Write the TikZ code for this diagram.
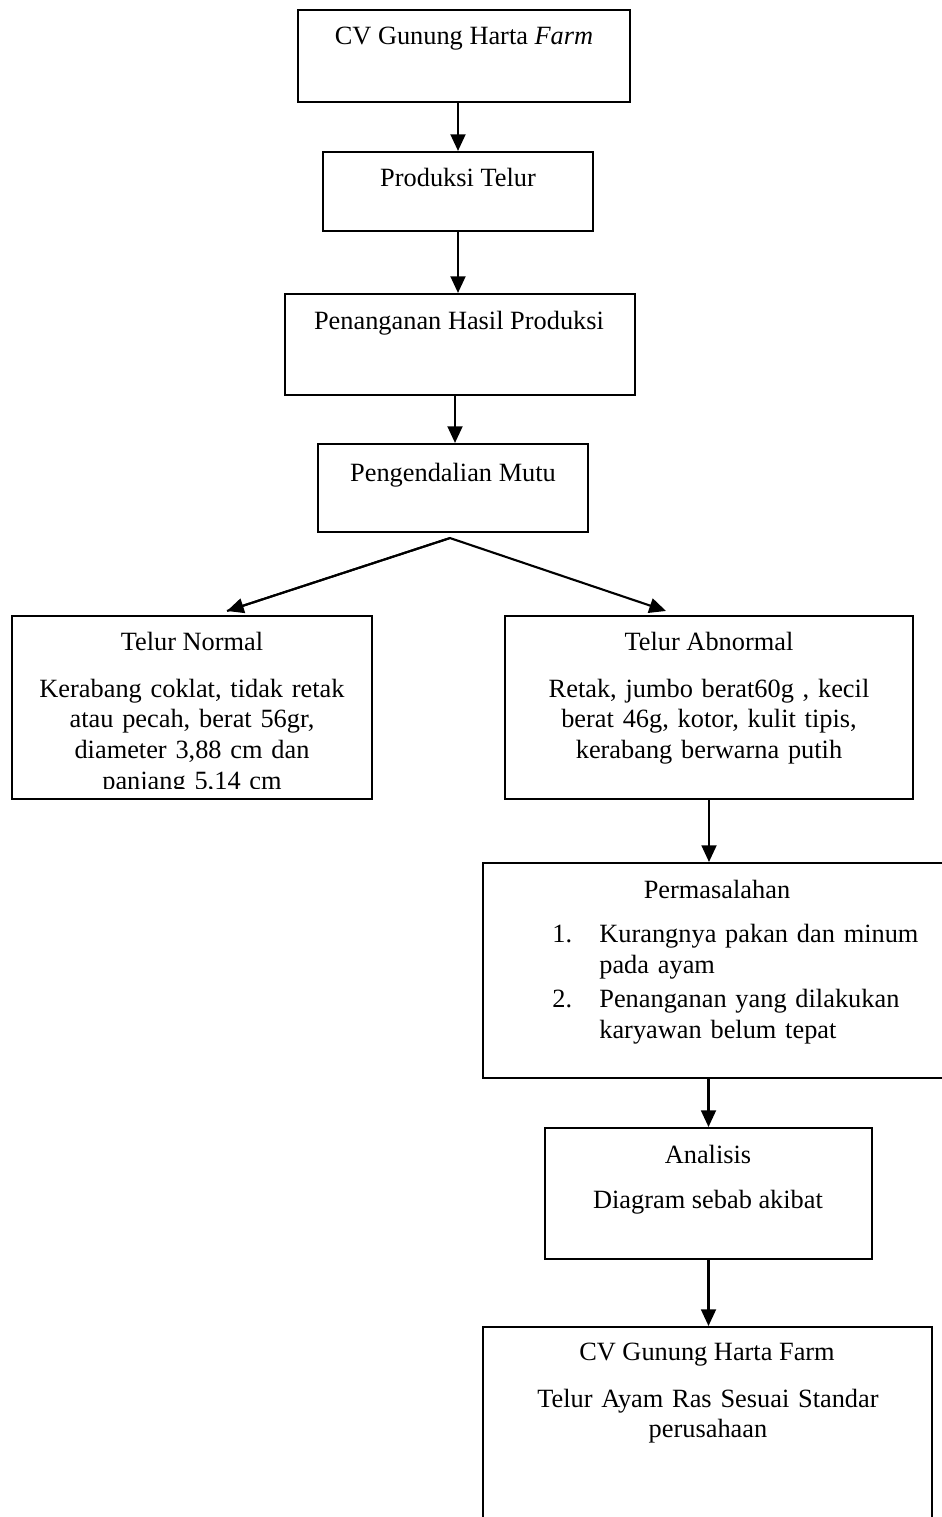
\documentclass[tikz,border=0pt]{standalone}
\usepackage{fontspec}
\setmainfont{Liberation Serif}
\usetikzlibrary{arrows.meta,calc}
\begin{document}
\begin{tikzpicture}[x=0.02cm,y=-0.02cm,
  box/.style={draw, line width=1.2pt, inner sep=0pt},
  arr/.style={line width=1.2pt, -{Triangle[length=9.5pt,width=8.5pt]}},
  txt/.style={font=\fontsize{15pt}{17.6pt}\selectfont, inner sep=0pt, anchor=base},
  para/.style={txt, text width=#1, align=center},
  para/.default=7cm,
  lst/.style={font=\fontsize{15pt}{18.2pt}\selectfont, inner sep=0pt, anchor=base west, text width=6.8cm, align=left},
  num/.style={font=\fontsize{15pt}{18.2pt}\selectfont, inner sep=0pt, anchor=base west},
]
\useasboundingbox (0,0) rectangle (941,1517);

% boxes
\node[box, minimum width=6.64cm, minimum height=1.84cm] (b1) at (464,56) {};
\node[box, minimum width=5.40cm, minimum height=1.58cm] (b2) at (458,191.5) {};
\node[box, minimum width=7.00cm, minimum height=2.02cm] (b3) at (460,344.5) {};
\node[box, minimum width=5.40cm, minimum height=1.76cm] (b4) at (453,488) {};
\node[box, minimum width=7.20cm, minimum height=3.66cm] (b5) at (192,707.5) {};
\node[box, minimum width=8.16cm, minimum height=3.66cm] (b6) at (709,707.5) {};
\node[box, minimum width=9.54cm, minimum height=4.30cm] (b7) at (721.5,970.5) {};
\node[box, minimum width=6.54cm, minimum height=2.62cm] (b8) at (708.5,1193.5) {};
\node[box, minimum width=8.98cm, minimum height=4.26cm] (b9) at (707.5,1433.5) {};

% texts
\node[txt] (t1) at (464,45) {CV Gunung Harta \textit{Farm}};
\node[txt] (t2) at (458,187) {Produksi Telur};
\node[txt] (t3) at (459,329) {Penanganan Hasil Produksi};
\node[txt] (t4) at (453,481) {Pengendalian Mutu};

\node[txt] (t5a) at (192,650) {Telur Normal};
\begin{scope}
  \clip (b5.north west) rectangle ([yshift=0.24cm]b5.south east);
  \node[para] (t5b) at (192,697) {Kerabang coklat, tidak retak\\atau pecah, berat 56gr,\\diameter 3,88 cm dan\\panjang 5,14 cm};
\end{scope}

\node[txt] (t6a) at (709,650) {Telur Abnormal};
\node[para=8cm] (t6b) at (709,697) {Retak, jumbo berat60g , kecil\\berat 46g, kotor, kulit tipis,\\kerabang berwarna putih};

\node[txt] (t7a) at (717,898) {Permasalahan};
\node[num] (n1) at (552,942) {1.};
\node[lst] (l1) at (599,942) {Kurangnya pakan dan minum\\pada ayam};
\node[num] (n2) at (552,1007) {2.};
\node[lst] (l2) at (599,1007) {Penanganan yang dilakukan\\karyawan belum tepat};

\node[txt] (t8a) at (708,1163) {Analisis};
\node[txt] (t8b) at (708,1208) {Diagram sebab akibat};

\node[txt] (t9a) at (707,1360) {CV Gunung Harta Farm};
\node[para=8.5cm] (t9b) at (708,1407) {Telur Ayam Ras Sesuai Standar\\perusahaan};

% connectors
\draw[arr] (b1.south -| b2.north) -- (b2.north);
\draw[arr] (b2.south) -- (b2.south |- b3.north);
\draw[arr] ([xshift=-0.1cm]b3.south) -- ([xshift=-0.1cm]b3.south |- b4.north);
\coordinate (apex) at ([shift={(-3,5)}]b4.south);
\coordinate (lt) at ([shift={(35,-4)}]b5.north);
\coordinate (rt) at ([shift={(-43,-4)}]b6.north);
\draw[arr, line join=miter] (lt) -- (apex) -- (rt);
\draw[arr] (apex) -- (lt);
\draw[arr] (b6.south) -- (b6.south |- b7.north);
\draw[arr] (b7.south -| b8.north) -- (b8.north);
\draw[arr] (b8.south) -- (b8.south |- b9.north);
\end{tikzpicture}
\end{document}
